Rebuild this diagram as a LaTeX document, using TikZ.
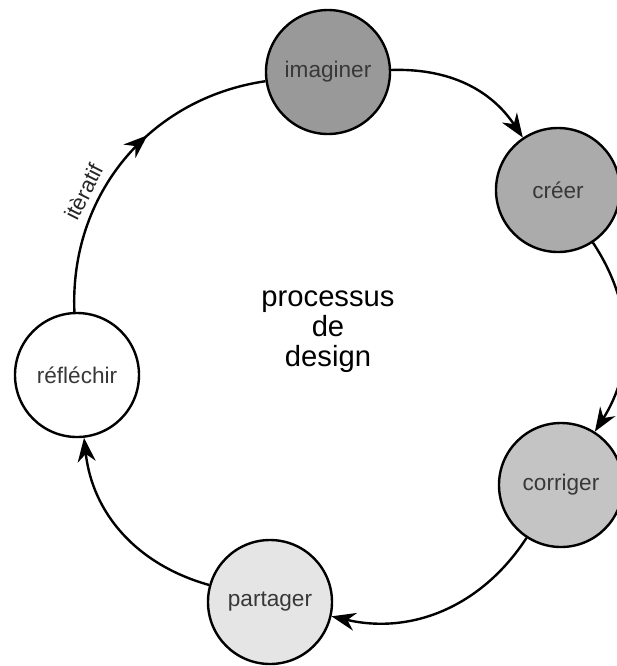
\documentclass[tikz,border=0pt]{standalone}
\usepackage{fontspec}
\setmainfont{Liberation Sans}
\usetikzlibrary{arrows.meta,decorations.markings}

\begin{document}
\begin{tikzpicture}[x=0.5pt,y=0.5pt,
    etape/.style={circle, draw=black, line width=1.2pt, minimum size=62pt, inner sep=0pt,
        font=\fontsize{11.3}{13}\selectfont, text=black!78},
    fleche/.style={line width=1.2pt, -{Stealth[length=12pt,width=9pt]}}]
            \useasboundingbox (0,0) rectangle (617,-666);
            \node[etape, fill=black!40] (imaginer) at (328,-72) {imaginer};
            \node[etape, fill=black!33] (creer) at (558,-190) {créer};
            \node[etape, fill=black!23] (corriger) at (561,-485) {corriger};
            \node[etape, fill=black!10] (partager) at (270,-602) {partager};
            \node[etape, fill=white] (reflechir) at (77,-375) {réfléchir};
            \node[align=center, font=\fontsize{14.6}{15}\selectfont] (centre) at (328,-332) {processus\\de\\design};
            \draw[fleche] (imaginer) to[bend left=29] (creer);
            \draw[fleche] (creer) to[bend left=33] (corriger);
            \draw[fleche] (corriger) to[bend left=35] (partager);
            \draw[fleche] (partager) to[bend left=34] (reflechir);
            \draw[line width=1.2pt, postaction={decorate},
                decoration={markings, mark=at position 0.6 with {\arrow{Stealth[length=12pt,width=9pt]}}}]
                (reflechir) to[bend left=42] node[pos=0.35, sloped, above=0pt, font=\fontsize{11}{13}\selectfont, text=black!85] (iteratif) {itèratif} (imaginer);
\end{tikzpicture}
\end{document}
